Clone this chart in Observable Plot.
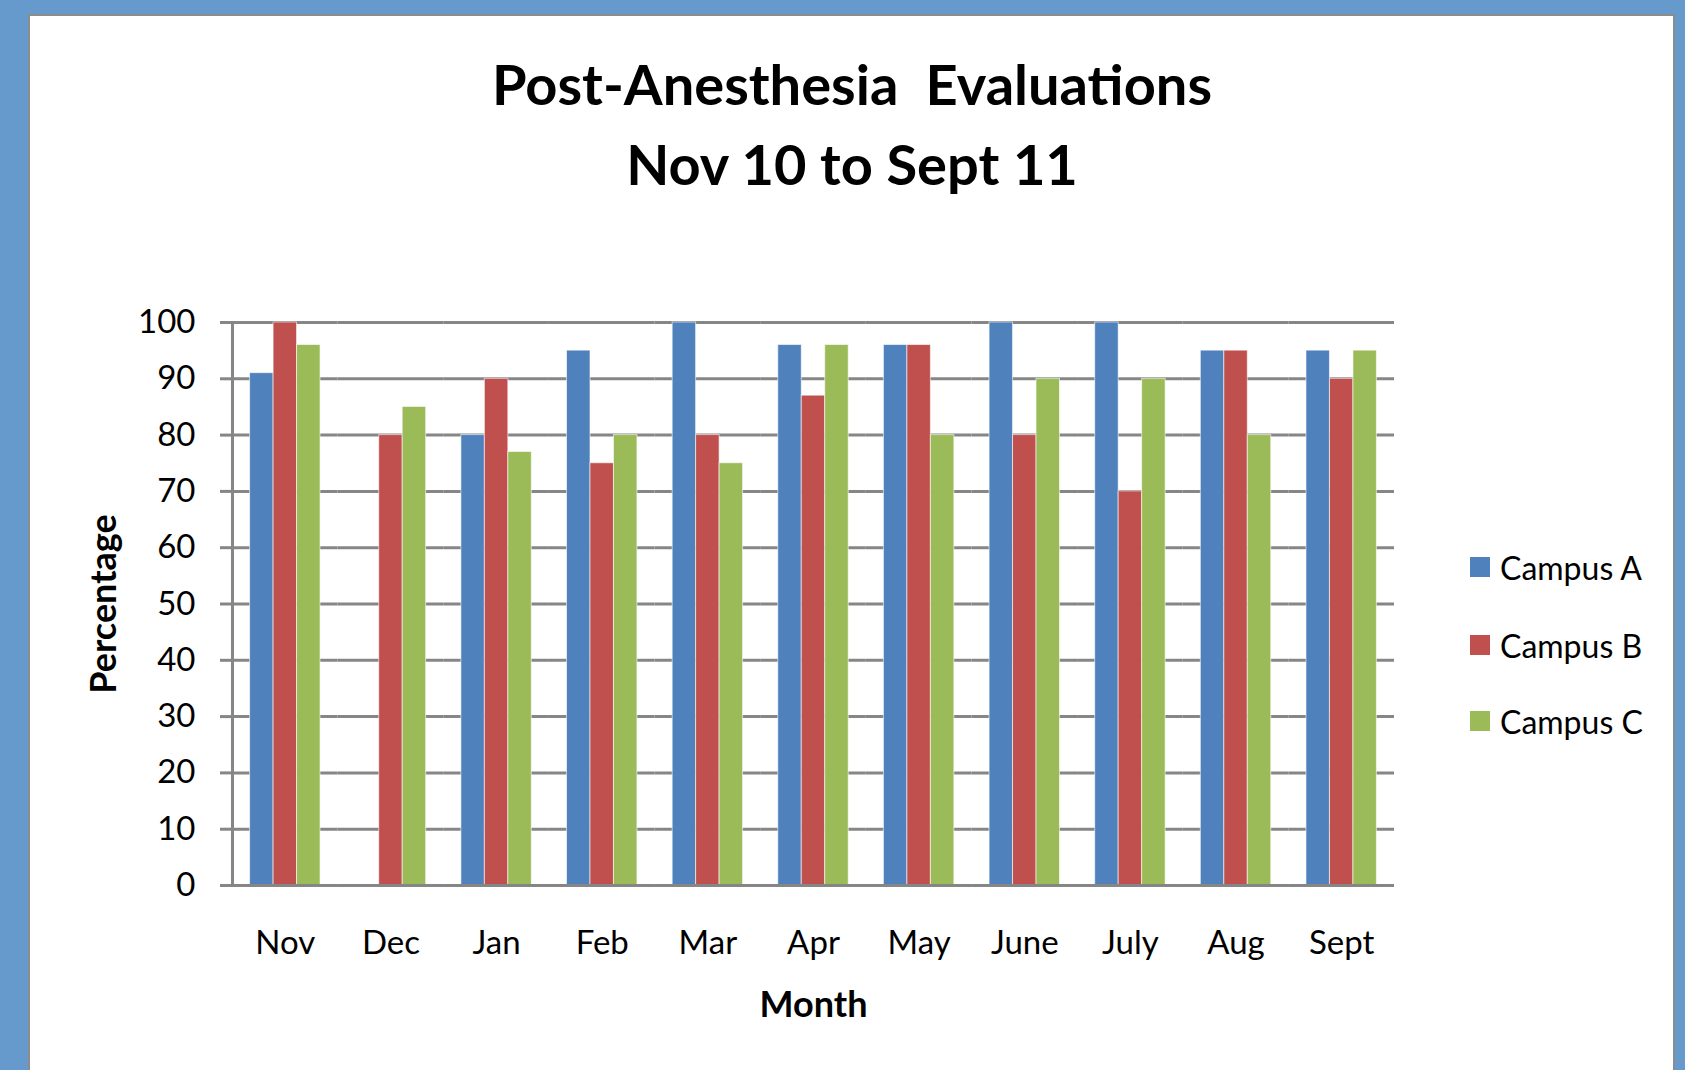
<!DOCTYPE html>
<html>
<head>
<meta charset="utf-8">
<script src="https://cdn.jsdelivr.net/npm/d3@7"></script>
<script src="https://cdn.jsdelivr.net/npm/@observablehq/plot@0.6"></script>
<style>
  html, body { margin: 0; padding: 0; }
  body { width: 1685px; height: 1070px; background: #6699CC; position: relative; overflow: hidden; font-family: Lato, "Open Sans", sans-serif; }
  #panel { position: absolute; left: 28px; top: 14px; width: 1647px; height: 1100px; background: #fff; border: 2px solid #8c8c8c; box-sizing: border-box; }
  #title { position: absolute; left: 27px; width: 1650px; top: 0; text-align: center; font-weight: bold; font-size: 56px; color: #000; white-space: pre; }
  #title div { position: absolute; width: 100%; }
  #chart { position: absolute; left: 0; top: 0; }
  #chart g[aria-label="y-axis label"] text, #chart g[aria-label="fx-axis label"] text { font-weight: bold; font-size: 36px; }
  .leg { position: absolute; left: 1470px; height: 34px; display: flex; align-items: center; font-size: 32px; color: #000; }
  .leg span.sw { display: inline-block; width: 20px; height: 20px; margin-right: 10px; }
</style>
</head>
<body>
<div id="panel"></div>
<div id="title"><div style="top:50px">Post-Anesthesia  Evaluations</div><div style="top:130px">Nov 10 to Sept 11</div></div>
<div id="chart"></div>
<div id="legend"></div>
<script>
const months = ["Nov", "Dec", "Jan", "Feb", "Mar", "Apr", "May", "June", "July", "Aug", "Sept"];
const campuses = ["Campus A", "Campus B", "Campus C"];
const campusA = [91, null, 80, 95, 100, 96, 96, 100, 100, 95, 95];
const campusB = [100, 80, 90, 75, 80, 87, 96, 80, 70, 95, 90];
const campusC = [96, 85, 77, 80, 75, 96, 80, 90, 90, 80, 95];
const colors = ["#4F81BD", "#C0504D", "#9BBB59"];
const yTicks = [0, 10, 20, 30, 40, 50, 60, 70, 80, 90, 100];

const series = [campusA, campusB, campusC];
const data = [];
months.forEach((m, i) => {
  campuses.forEach((c, j) => {
    const v = series[j][i];
    if (v != null) data.push({month: m, campus: c, value: v});
  });
});

const gray = "#868686";
const chart = Plot.plot({
  width: 1685,
  height: 1070,
  marginLeft: 232,
  marginRight: 291,
  marginTop: 322,
  marginBottom: 185,
  style: {fontFamily: "Lato, 'Open Sans', sans-serif", fontSize: "33px", background: "transparent", color: "#000"},
  fx: {domain: months, padding: 0, round: false},
  x: {domain: campuses, paddingInner: 0, paddingOuter: 0.75, round: false, axis: null},
  y: {domain: [0, 100], ticks: yTicks},
  color: {domain: campuses, range: colors},
  marks: [
    Plot.gridY(yTicks, {stroke: gray, strokeOpacity: 1, strokeWidth: 3}),
    Plot.barY(data, {fx: "month", x: "campus", y: "value", fill: "campus", stroke: "#ffffff", strokeOpacity: 0.6, strokeWidth: 1}),
    Plot.ruleY([0], {stroke: gray, strokeWidth: 3}),
    Plot.frame({anchor: "left", facetAnchor: "left", stroke: gray, strokeWidth: 3}),
    Plot.axisY(yTicks, {tickSize: 12, tickPadding: 25, stroke: gray, strokeWidth: 3, fill: "#000", fontSize: 33,
      label: "Percentage", labelArrow: "none", labelAnchor: "center", labelOffset: 142, tickFormat: d => String(d)}),
    Plot.axisFx({anchor: "bottom", tickSize: 0, tickPadding: 45, fill: "#000", fontSize: 33,
      label: "Month", labelArrow: "none", labelAnchor: "center", labelOffset: 131})
  ]
});
document.getElementById("chart").appendChild(chart);

const legend = document.getElementById("legend");
const legendTops = [550, 628, 704];
campuses.forEach((c, j) => {
  const d = document.createElement("div");
  d.className = "leg";
  d.style.top = legendTops[j] + "px";
  d.innerHTML = `<span class="sw" style="background:${colors[j]}"></span><span>${c}</span>`;
  legend.appendChild(d);
});
</script>
</body>
</html>
